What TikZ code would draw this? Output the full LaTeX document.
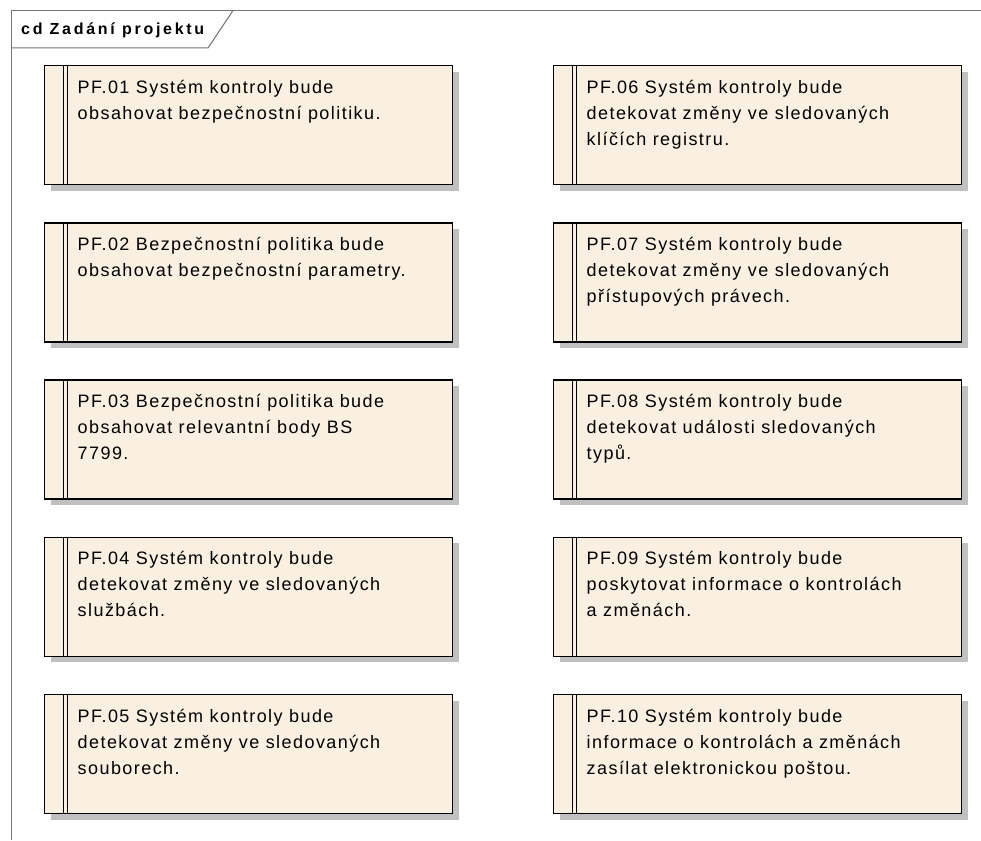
\documentclass[tikz,border=0pt]{standalone}
\usepackage{fontspec}
\setmainfont{Liberation Sans}
\usetikzlibrary{shadows}
\definecolor{reqfill}{RGB}{250,240,225}
\definecolor{framegray}{RGB}{118,118,118}
\definecolor{shadowgray}{RGB}{192,192,192}
% one requirement: framed box, double bar on the left, text block
\newcommand{\requirement}[4]{%
  \node[reqbox] (#1) at (#2,#3) {};
  \draw[reqbar] ([xshift=19.5pt]#1.north west) -- ([xshift=19.5pt]#1.south west);
  \draw[reqbar] ([xshift=23.5pt]#1.north west) -- ([xshift=23.5pt]#1.south west);
  \node[reqtext] (#1-text) at ([xshift=33.5pt,yshift=-12pt]#1.north west) {\rule{0pt}{16pt}#4};
}
\begin{document}
\begin{tikzpicture}[x=1pt,y=-1pt,
  reqbox/.style={rectangle, draw=black, line width=1.4pt, fill=reqfill,
    minimum width=408pt, minimum height=119pt, inner sep=0pt, anchor=north west,
    drop shadow={shadow xshift=6pt, shadow yshift=-6pt, fill=shadowgray, opacity=1}},
  reqbar/.style={draw=black, line width=1.1pt},
  reqtext/.style={anchor=north west, inner sep=0pt, align=left,
    font=\addfontfeatures{LetterSpace=8}\fontsize{18}{26}\selectfont},
  framestyle/.style={draw=framegray, line width=1pt},
  titletext/.style={anchor=base west, inner sep=0pt,
    font=\addfontfeatures{LetterSpace=17}\fontsize{16}{18}\selectfont\bfseries}]
\useasboundingbox (0,0) rectangle (981,840);
\fill[white] (0,0) rectangle (981,840);

% diagram frame with its name tab
\coordinate (frameTR) at (981,10.5);
\coordinate (frameTL) at (11,10.5);
\coordinate (frameBL) at (11,840);
\coordinate (tabBL) at (11,48);
\coordinate (tabBR) at (208,48);
\coordinate (tabTR) at (233,10.5);
\draw[framestyle] (frameTR) -- (frameTL) -- (frameBL);
\draw[framestyle] (tabBL) -- (tabBR) -- (tabTR);
\node[titletext] (title) at (21,34.5) {cd Zadání projektu};

% left column of requirements
\requirement{pf01}{44}{65}{PF.01 Systém kontroly bude\\obsahovat bezpečnostní politiku.}
\requirement{pf02}{44}{222.2}{PF.02 Bezpečnostní politika bude\\obsahovat bezpečnostní parametry.}
\requirement{pf03}{44}{379.4}{PF.03 Bezpečnostní politika bude\\obsahovat relevantní body BS\\7799.}
\requirement{pf04}{44}{536.6}{PF.04 Systém kontroly bude\\detekovat změny ve sledovaných\\službách.}
\requirement{pf05}{44}{693.8}{PF.05 Systém kontroly bude\\detekovat změny ve sledovaných\\souborech.}

% right column of requirements
\requirement{pf06}{553}{65}{PF.06 Systém kontroly bude\\detekovat změny ve sledovaných\\klíčích registru.}
\requirement{pf07}{553}{222.2}{PF.07 Systém kontroly bude\\detekovat změny ve sledovaných\\přístupových právech.}
\requirement{pf08}{553}{379.4}{PF.08 Systém kontroly bude\\detekovat události sledovaných\\typů.}
\requirement{pf09}{553}{536.6}{PF.09 Systém kontroly bude\\poskytovat informace o kontrolách\\a změnách.}
\requirement{pf10}{553}{693.8}{PF.10 Systém kontroly bude\\informace o kontrolách a změnách\\zasílat elektronickou poštou.}
\end{tikzpicture}
\end{document}
